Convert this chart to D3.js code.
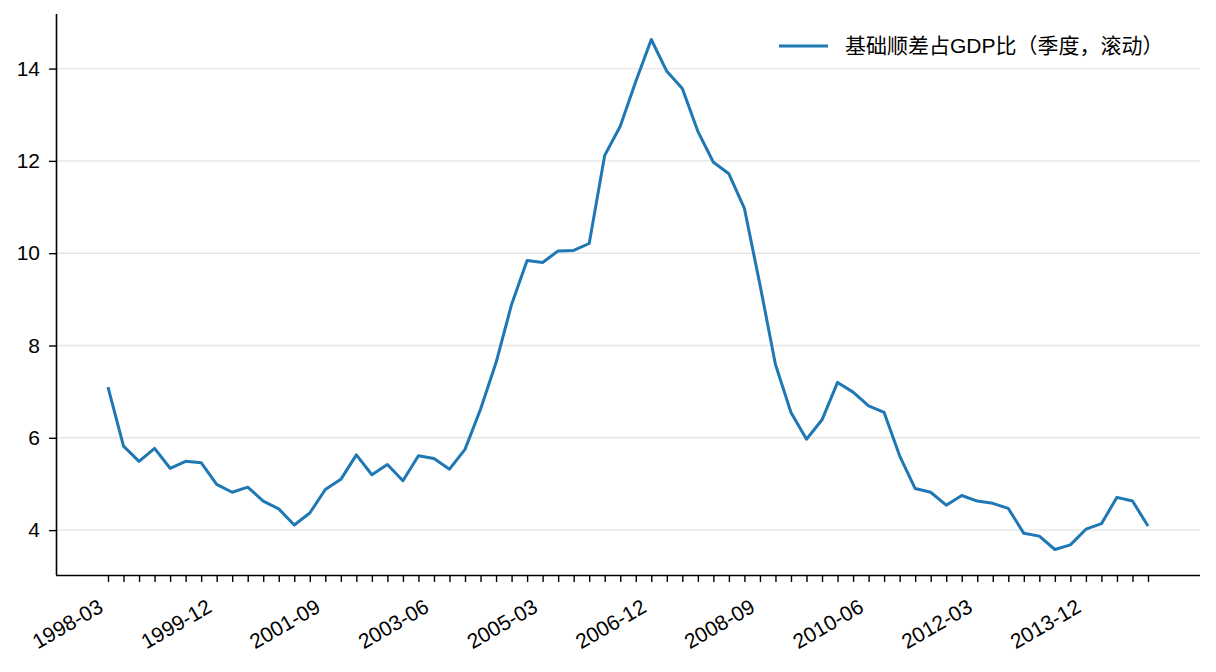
<!DOCTYPE html>
<html>
<head>
<meta charset="utf-8">
<script src="https://cdn.jsdelivr.net/npm/d3@7"></script>
<style>
  html, body { margin: 0; padding: 0; background: #fff; }
  svg { display: block; }
  text { font-family: "Liberation Sans", Arial, "Noto Sans CJK SC", sans-serif; fill: #000; }
</style>
</head>
<body>
<div id="chart"></div>
<script>
// quarters (category axis)
const quarters = [
  "1998-03","1998-06","1998-09","1998-12","1999-03","1999-06","1999-09","1999-12",
  "2000-03","2000-06","2000-09","2000-12","2001-03","2001-06","2001-09","2001-12",
  "2002-03","2002-06","2002-09","2002-12","2003-03","2003-06","2003-09","2003-12",
  "2004-03","2004-06","2004-09","2004-12","2005-03","2005-06","2005-09","2005-12",
  "2006-03","2006-06","2006-09","2006-12","2007-03","2007-06","2007-09","2007-12",
  "2008-03","2008-06","2008-09","2008-12","2009-03","2009-06","2009-09","2009-12",
  "2010-03","2010-06","2010-09","2010-12","2011-03","2011-06","2011-09","2011-12",
  "2012-03","2012-06","2012-09","2012-12","2013-03","2013-06","2013-09","2013-12",
  "2014-03","2014-06","2014-09","2014-12"
];

// 基础顺差占GDP比（季度，滚动）
const values = [
  7.10, 5.82, 5.49, 5.77, 5.34, 5.49, 5.46, 4.99,
  4.82, 4.93, 4.63, 4.46, 4.11, 4.37, 4.88, 5.10,
  5.63, 5.20, 5.42, 5.07, 5.61, 5.55, 5.32, 5.75,
  6.62, 7.63, 8.89, 9.84, 9.80, 10.05, 10.06, 10.21,
  12.12, 12.75, 13.72, 14.63, 13.94, 13.57, 12.64, 11.97,
  11.72, 10.97, 9.32, 7.59, 6.55, 5.97, 6.39, 7.20,
  6.99, 6.69, 6.55, 5.61, 4.90, 4.82, 4.54, 4.75,
  4.63, 4.58, 4.47, 3.93, 3.87, 3.58, 3.68, 4.02,
  4.14, 4.71, 4.63, 4.09
];

const seriesName = "基础顺差占GDP比（季度，滚动）";
const xTickLabels = ["1998-03","1999-12","2001-09","2003-06","2005-03","2006-12","2008-09","2010-06","2012-03","2013-12"];
const yTicks = [4, 6, 8, 10, 12, 14];

// Dimensions
const W = 1216, H = 672;
const margin = { top: 14, right: 16, bottom: 97, left: 56 };
const width = W - margin.left - margin.right;
const height = H - margin.top - margin.bottom;

const svg = d3.select("#chart").append("svg")
    .attr("width", W)
    .attr("height", H);

const g = svg.append("g")
    .attr("transform", `translate(${margin.left},${margin.top})`);

// scales, with 5% padding like matplotlib
const n = values.length;
const xPad = (n - 1) * 0.05;
const x = d3.scaleLinear()
    .domain([-xPad, n - 1 + xPad])
    .range([0, width]);

const [yMin, yMax] = d3.extent(values);
const yPad = (yMax - yMin) * 0.05;
const y = d3.scaleLinear()
    .domain([yMin - yPad, yMax + yPad])
    .range([height, 0]);

// grid
g.append("g")
    .selectAll("line")
    .data(yTicks)
    .enter().append("line")
    .attr("x1", 0)
    .attr("x2", width)
    .attr("y1", d => y(d))
    .attr("y2", d => y(d))
    .attr("stroke", "#e5e5e5")
    .attr("stroke-width", 1.4);

// line
const line = d3.line()
    .x((d, i) => x(i))
    .y(d => y(d));

g.append("path")
    .datum(values)
    .attr("fill", "none")
    .attr("stroke", "#1f77b4")
    .attr("stroke-width", 3)
    .attr("stroke-linejoin", "round")
    .attr("d", line);

// Y axis
const yAxis = g.append("g")
    .call(d3.axisLeft(y).tickValues(yTicks).tickSize(7).tickPadding(9).tickFormat(d3.format("d")));
yAxis.select(".domain").attr("stroke", "#000").attr("stroke-width", 1.6)
    .attr("d", `M0.5,${height}V0`);
yAxis.selectAll(".tick line").attr("stroke", "#000").attr("stroke-width", 1.4);
yAxis.selectAll("text").style("font-size", "21px").attr("fill", "#000");

// X axis
const xAxis = g.append("g")
    .attr("transform", `translate(0,${height})`)
    .call(d3.axisBottom(x)
        .tickValues(d3.range(n))
        .tickSize(7)
        .tickFormat(i => xTickLabels.includes(quarters[i]) ? quarters[i] : ""));
xAxis.select(".domain").attr("stroke", "#000").attr("stroke-width", 1.6)
    .attr("d", `M0,0.5H${width}`);
xAxis.selectAll(".tick line").attr("stroke", "#000").attr("stroke-width", 1.4);
xAxis.selectAll("text")
    .style("font-size", "21px")
    .attr("fill", "#000")
    .attr("text-anchor", "end")
    .attr("x", 0)
    .attr("y", 0)
    .attr("dy", 0)
    .attr("transform", "translate(-4,36) rotate(-30)");

// legend
const legend = svg.append("g")
    .attr("transform", "translate(779,46)");
legend.append("line")
    .attr("x1", 0)
    .attr("x2", 49)
    .attr("y1", 0)
    .attr("y2", 0)
    .attr("stroke", "#1f77b4")
    .attr("stroke-width", 3);
legend.append("text")
    .attr("x", 66)
    .attr("y", 7)
    .style("font-size", "21px")
    .text(seriesName);
</script>
</body>
</html>
